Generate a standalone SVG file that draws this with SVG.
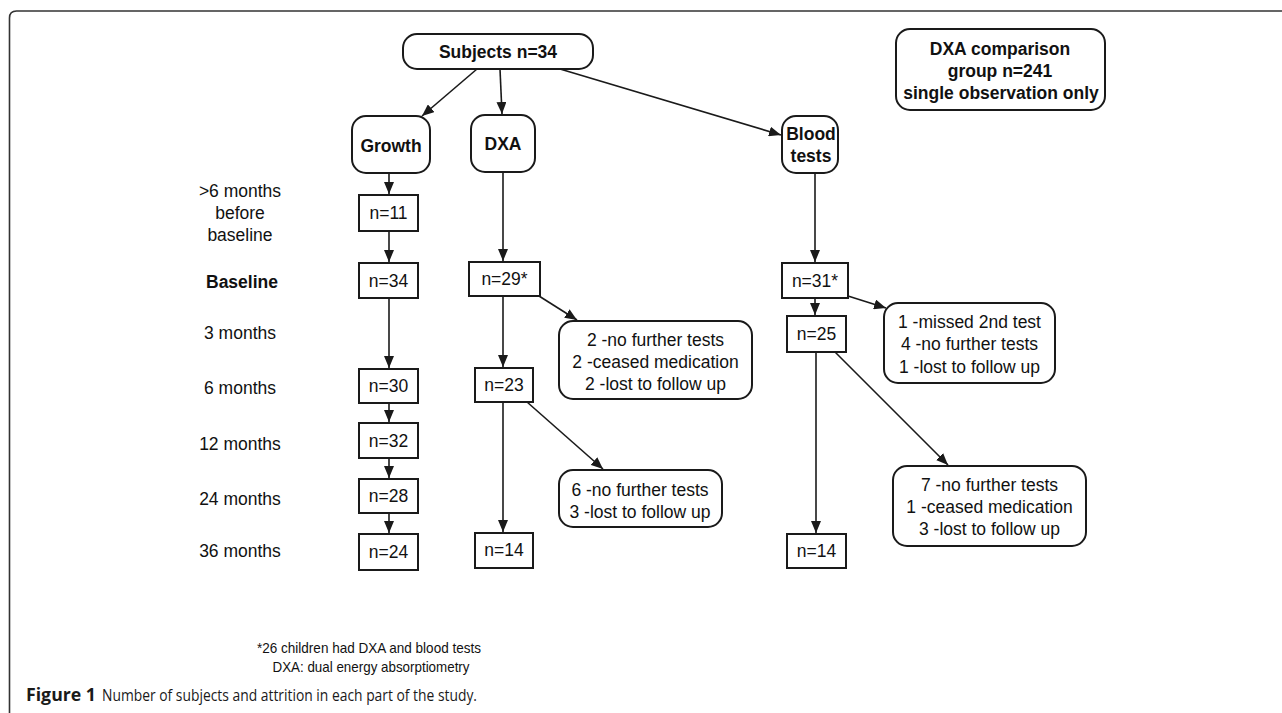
<svg xmlns="http://www.w3.org/2000/svg" width="1282" height="713" viewBox="0 0 1282 713">
<style>
  .box { fill: #fff; stroke: #1a1a1a; stroke-width: 2; }
  .t { font-family: "Liberation Sans", Arial, sans-serif; font-size: 17.5px; fill: #111; text-anchor: middle; }
  .b { font-weight: bold; }
  .lab { font-family: "Liberation Sans", Arial, sans-serif; font-size: 17.5px; fill: #111; text-anchor: middle; }
  .con { stroke: #1a1a1a; stroke-width: 1.6; fill: none; marker-end: url(#arr); }
  .note { font-family: "Liberation Sans", Arial, sans-serif; font-size: 15px; fill: #111; text-anchor: middle; }
  .cap { font-family: "Open Sans", "Noto Sans", sans-serif; font-size: 17px; fill: #1a1a1a; }
</style>
<defs>
  <marker id="arr" viewBox="0 0 12 10" refX="12" refY="5" markerWidth="12" markerHeight="10" markerUnits="userSpaceOnUse" orient="auto">
    <path d="M0,0 L12,5 L0,10 z" fill="#1a1a1a"/>
  </marker>
</defs>
<rect width="1282" height="713" fill="#fff"/>
<path d="M9.5 713 V18 Q9.5 11 16.5 11 H1282" fill="none" stroke="#333" stroke-width="1.6"/>

<g id="connectors">
  <line class="con" x1="477" y1="69" x2="422" y2="116"/>
  <line class="con" x1="500" y1="69" x2="502" y2="114"/>
  <line class="con" x1="560" y1="69" x2="781" y2="135"/>
  <line class="con" x1="389" y1="173" x2="389" y2="194"/>
  <line class="con" x1="389" y1="231" x2="389" y2="262"/>
  <line class="con" x1="389" y1="298" x2="389" y2="368"/>
  <line class="con" x1="389" y1="403" x2="389" y2="422"/>
  <line class="con" x1="389" y1="458" x2="389" y2="478"/>
  <line class="con" x1="389" y1="513" x2="389" y2="533"/>
  <line class="con" x1="503" y1="172" x2="503" y2="261"/>
  <line class="con" x1="503" y1="296" x2="503" y2="367"/>
  <line class="con" x1="539" y1="296" x2="577" y2="320"/>
  <line class="con" x1="503" y1="402" x2="503" y2="532"/>
  <line class="con" x1="527" y1="402" x2="603" y2="469"/>
  <line class="con" x1="815" y1="173" x2="815" y2="262"/>
  <line class="con" x1="815" y1="298" x2="815" y2="315"/>
  <line class="con" x1="848" y1="296" x2="886" y2="308"/>
  <line class="con" x1="816" y1="352" x2="816" y2="533"/>
  <line class="con" x1="835" y1="352" x2="948" y2="465"/>
</g>

<g id="subjects">
  <rect class="box" x="403" y="34" width="190" height="35" rx="14"/>
  <text class="t b" x="498" y="58">Subjects n=34</text>
</g>
<g id="dxa-comparison">
  <rect class="box" x="896" y="29" width="209" height="81" rx="14"/>
  <text class="t b" x="1000" y="55">DXA comparison</text>
  <text class="t b" x="1000" y="77">group n=241</text>
  <text class="t b" x="1001" y="99">single observation only</text>
</g>
<g id="growth">
  <rect class="box" x="352" y="116" width="78" height="57" rx="14"/>
  <text class="t b" x="391" y="152">Growth</text>
</g>
<g id="dxa">
  <rect class="box" x="471" y="115" width="64" height="57" rx="14"/>
  <text class="t b" x="503" y="150">DXA</text>
</g>
<g id="blood">
  <rect class="box" x="782" y="116" width="56" height="57" rx="14"/>
  <text class="t b" x="811" y="140">Blood</text>
  <text class="t b" x="811" y="162">tests</text>
</g>

<g id="labels">
  <text class="lab" x="240" y="197">&gt;6 months</text>
  <text class="lab" x="240" y="219">before</text>
  <text class="lab" x="240" y="241">baseline</text>
  <text class="lab b" x="242" y="288">Baseline</text>
  <text class="lab" x="240" y="339">3 months</text>
  <text class="lab" x="240" y="394">6 months</text>
  <text class="lab" x="240" y="450">12 months</text>
  <text class="lab" x="240" y="505">24 months</text>
  <text class="lab" x="240" y="557">36 months</text>
</g>

<g id="g11"><rect class="box" x="359" y="195" width="59" height="36"/><text class="t" x="388.5" y="219">n=11</text></g>
<g id="g34"><rect class="box" x="359" y="263" width="59" height="35"/><text class="t" x="388.5" y="287">n=34</text></g>
<g id="g30"><rect class="box" x="359" y="369" width="59" height="34"/><text class="t" x="388.5" y="392">n=30</text></g>
<g id="g32"><rect class="box" x="359" y="423" width="59" height="35"/><text class="t" x="388.5" y="447">n=32</text></g>
<g id="g28"><rect class="box" x="359" y="479" width="59" height="34"/><text class="t" x="388.5" y="502">n=28</text></g>
<g id="g24"><rect class="box" x="359" y="534" width="59" height="36"/><text class="t" x="388.5" y="558">n=24</text></g>

<g id="d29"><rect class="box" x="469" y="262" width="71" height="34"/><text class="t" x="504.5" y="285">n=29*</text></g>
<g id="d23"><rect class="box" x="475" y="368" width="58" height="34"/><text class="t" x="504" y="391">n=23</text></g>
<g id="d14"><rect class="box" x="475" y="533" width="58" height="35"/><text class="t" x="504" y="556">n=14</text></g>

<g id="dloss1">
  <rect class="box" x="559" y="321" width="193" height="78" rx="14"/>
  <text class="t" x="655.5" y="346">2 -no further tests</text>
  <text class="t" x="655.5" y="368">2 -ceased medication</text>
  <text class="t" x="655.5" y="390">2 -lost to follow up</text>
</g>
<g id="dloss2">
  <rect class="box" x="559" y="470" width="163" height="57" rx="14"/>
  <text class="t" x="640" y="496">6 -no further tests</text>
  <text class="t" x="640" y="518">3 -lost to follow up</text>
</g>

<g id="b31"><rect class="box" x="782" y="263" width="66" height="35"/><text class="t" x="815" y="287">n=31*</text></g>
<g id="b25"><rect class="box" x="787" y="316" width="59" height="36"/><text class="t" x="816.5" y="340">n=25</text></g>
<g id="b14"><rect class="box" x="787" y="534" width="59" height="34"/><text class="t" x="816.5" y="557">n=14</text></g>

<g id="bloss1">
  <rect class="box" x="884" y="303" width="171" height="80" rx="14"/>
  <text class="t" x="969.5" y="328">1 -missed 2nd test</text>
  <text class="t" x="969.5" y="350">4 -no further tests</text>
  <text class="t" x="969.5" y="373">1 -lost to follow up</text>
</g>
<g id="bloss2">
  <rect class="box" x="893" y="466" width="193" height="80" rx="14"/>
  <text class="t" x="989.5" y="491">7 -no further tests</text>
  <text class="t" x="989.5" y="513">1 -ceased medication</text>
  <text class="t" x="989.5" y="535">3 -lost to follow up</text>
</g>

<g id="footnote">
  <text class="note" x="369" y="653" textLength="224" lengthAdjust="spacingAndGlyphs">*26 children had DXA and blood tests</text>
  <text class="note" x="371" y="672" textLength="197" lengthAdjust="spacingAndGlyphs">DXA: dual energy absorptiometry</text>
</g>
<g id="caption">
  <text class="cap" x="26" y="701" font-weight="bold" textLength="70" lengthAdjust="spacingAndGlyphs">Figure 1</text>
  <text class="cap" x="102" y="701" textLength="375" lengthAdjust="spacingAndGlyphs">Number of subjects and attrition in each part of the study.</text>
</g>
</svg>
